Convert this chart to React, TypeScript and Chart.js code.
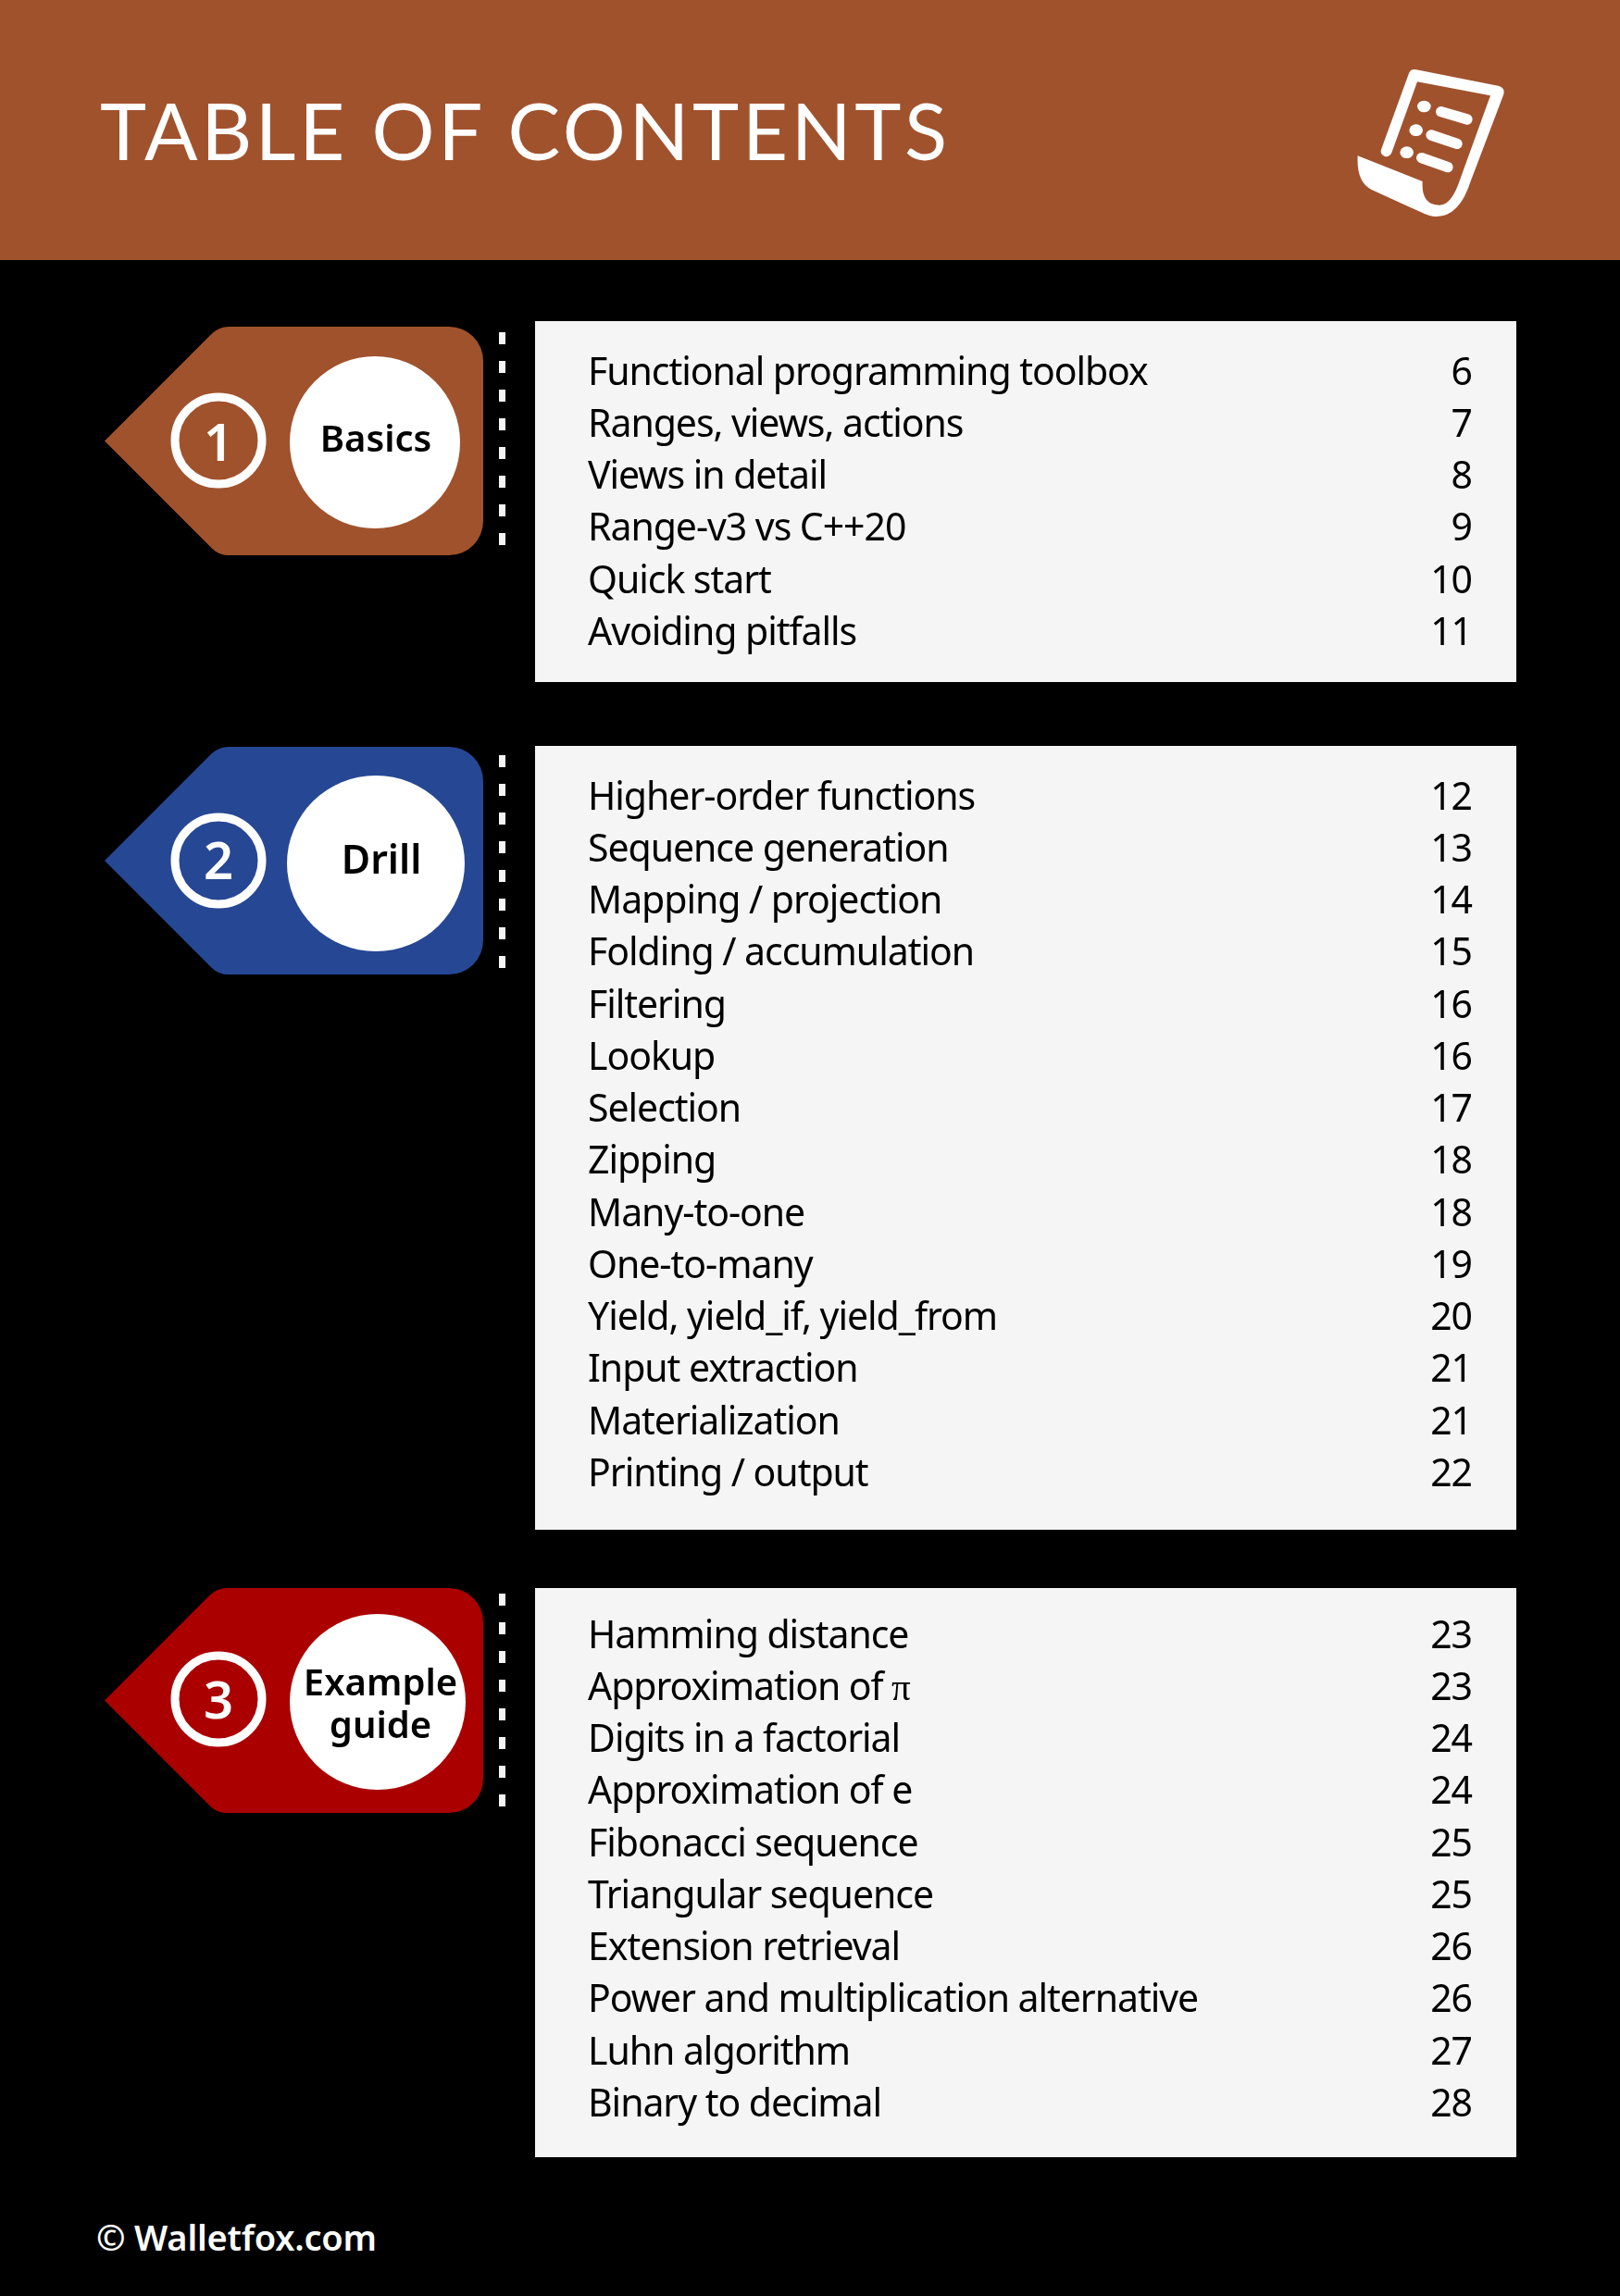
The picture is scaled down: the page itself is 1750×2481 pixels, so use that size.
import React, { useRef, useEffect } from "react";
import Chart from "chart.js/auto";

const basicsTopics = ["Functional programming toolbox", "Ranges, views, actions", "Views in detail", "Range-v3 vs C++20", "Quick start", "Avoiding pitfalls"];
const basicsPages = [6, 7, 8, 9, 10, 11];

const drillTopics = ["Higher-order functions", "Sequence generation", "Mapping / projection", "Folding / accumulation", "Filtering", "Lookup", "Selection", "Zipping", "Many-to-one", "One-to-many", "Yield, yield_if, yield_from", "Input extraction", "Materialization", "Printing / output"];
const drillPages = [12, 13, 14, 15, 16, 16, 17, 18, 18, 19, 20, 21, 21, 22];

const exampleTopics = ["Hamming distance", "Approximation of π", "Digits in a factorial", "Approximation of e", "Fibonacci sequence", "Triangular sequence", "Extension retrieval", "Power and multiplication alternative", "Luhn algorithm", "Binary to decimal"];
const examplePages = [23, 23, 24, 24, 25, 25, 26, 26, 27, 28];

const FONT = '"Noto Sans", sans-serif';
// PiSerif only holds the pi glyph, everything else falls through to Noto Sans
const ROW_FONT = 'PiSerif, "Noto Sans", sans-serif';
const ROW = 56.25;

interface SectionProps {
	topics: string[];
	pages: number[];
	number: string;
	badge: string[];
	badgeSize: number;
	color: string;
	// page coordinates of the canvas band, the panel, the tag and its circles
	canvasTop: number;
	canvasBottom: number;
	panelTop: number;
	panelBottom: number;
	firstRow: number;
	tagTop: number;
	tagBottom: number;
	ringY: number;
	digitBase: number;
	circle: [number, number, number, number];
	badgeX: number;
	badgeBase: number;
	dashTop: number;
}

const Section: React.FC<SectionProps> = (props) => {
	const chartRef = useRef<HTMLCanvasElement | null>(null);

	useEffect(() => {
		if (!chartRef.current) return;
		const top = props.canvasTop;
		const height = props.canvasBottom - props.canvasTop;
		const rowsTop = props.firstRow - ROW / 2;
		const rowsBottom = rowsTop + ROW * props.topics.length;

		const decor = {
			id: "decor",
			beforeDraw(chart: any) {
				const ctx = chart.ctx;
				ctx.letterSpacing = "0px";
				ctx.save();
				ctx.translate(0, -top);

				// panel behind the rows
				ctx.fillStyle = "#F5F5F5";
				ctx.fillRect(578, props.panelTop, 1060, props.panelBottom - props.panelTop);

				// tag
				const t = props.tagTop;
				const b = props.tagBottom;
				const tip = (t + b) / 2;
				const lean = tip - t;
				ctx.fillStyle = props.color;
				ctx.beginPath();
				ctx.moveTo(113, tip);
				ctx.arcTo(113 + lean, t, 522, t, 26);
				ctx.arcTo(522, t, 522, b, 37);
				ctx.arcTo(522, b, 113 + lean, b, 37);
				ctx.arcTo(113 + lean, b, 113, tip, 26);
				ctx.closePath();
				ctx.fill();

				// numbered ring
				ctx.strokeStyle = "#FFFFFF";
				ctx.lineWidth = 9;
				ctx.beginPath();
				ctx.arc(236, props.ringY, 47, 0, Math.PI * 2);
				ctx.stroke();
				ctx.fillStyle = "#FFFFFF";
				ctx.textAlign = "center";
				ctx.textBaseline = "alphabetic";
				ctx.font = `600 56px ${FONT}`;
				ctx.fillText(props.number, 236, props.digitBase);

				// white badge
				const [cx, cy, rx, ry] = props.circle;
				ctx.beginPath();
				ctx.ellipse(cx, cy, rx, ry, 0, 0, Math.PI * 2);
				ctx.fill();
				ctx.fillStyle = "#000000";
				ctx.font = `600 ${props.badgeSize}px ${FONT}`;
				props.badge.forEach((line, i) => {
					ctx.fillText(line, props.badgeX, props.badgeBase + i * 46);
				});

				// dashes between tag and panel
				ctx.fillStyle = "#F5F5F5";
				for (let i = 0; i < 8; i++) {
					ctx.fillRect(539, props.dashTop + i * 31, 7, 13);
				}
				ctx.restore();
				// the row labels are tighter than Noto Sans sets them
				ctx.letterSpacing = "-1.05px";
			},
		};

		const tickFont = { family: ROW_FONT, size: 41 };
		const chart = new Chart(chartRef.current, {
			type: "bar",
			data: {
				labels: props.topics,
				datasets: [
					{
						label: "Page",
						data: props.pages,
						backgroundColor: "rgba(0,0,0,0)",
					},
				],
			},
			options: {
				indexAxis: "y",
				responsive: false,
				animation: false,
				layout: {
					autoPadding: false,
					padding: {
						left: 635,
						right: 160,
						top: rowsTop - top,
						bottom: height - (rowsBottom - top),
					},
				},
				scales: {
					x: { display: false, min: 0, max: 30 },
					y: {
						type: "category",
						grid: { display: false, drawTicks: false },
						border: { display: false },
						ticks: { mirror: true, padding: 0, autoSkip: false, color: "#000000", font: tickFont },
					},
					yPages: {
						type: "category",
						position: "right",
						offset: true,
						labels: props.pages.map(String),
						grid: { display: false, drawTicks: false },
						border: { display: false },
						ticks: { mirror: true, padding: 0, autoSkip: false, color: "#000000", font: tickFont },
					},
				},
				plugins: {
					legend: { display: false },
					tooltip: { enabled: false },
				},
			} as any,
			plugins: [decor],
		});

		// redraw once the local pi font is in
		document.fonts.load("41px PiSerif", "π").then(() => {
			if (chart.ctx) chart.update();
		});

		return () => {
			chart.destroy();
		};
	}, []);

	return (
		<canvas
			ref={chartRef}
			width={1750}
			height={props.canvasBottom - props.canvasTop}
			style={{ position: "absolute", left: 0, top: props.canvasTop, display: "block" }}
		></canvas>
	);
};

const App: React.FC = () => {
	return (
		<div style={{ position: "relative", width: 1750, height: 2481, background: "#000000", overflow: "hidden" }}>
			<style>
				{'body{margin:0;background:#000}@font-face{font-family:PiSerif;src:local("Liberation Serif");unicode-range:U+03C0}'}
			</style>
			<div style={{ position: "absolute", left: 0, top: 0, width: 1750, height: 281, background: "#A0522D" }}></div>
			<div
				style={{
					position: "absolute",
					left: 108,
					top: 82,
					color: "#FFFFFF",
					fontFamily: "Lato, sans-serif",
					fontSize: 85,
					lineHeight: "116px",
					letterSpacing: 3.7,
					whiteSpace: "nowrap",
				}}
			>
				TABLE OF CONTENTS
			</div>
			<svg style={{ position: "absolute", left: 1420, top: 50 }} width={230} height={200} viewBox="0 0 690 600">
				<path
					fill="#FFFFFF"
					d="M305 90 Q311 72 330 76 L595 128 Q620 134 612 158 L505 440 Q470 550 395 552 Q372 552 345 538 L185 465 Q135 440 140 355 L350 438 Q345 515 405 515 Q440 515 465 450 L570 160 L333 115 L250 345 Q243 360 228 357 Q210 350 217 332 Z"
				/>
				<ellipse cx={355} cy={195} rx={22} ry={19} fill="#FFFFFF" />
				<ellipse cx={329} cy={272} rx={22} ry={19} fill="#FFFFFF" />
				<ellipse cx={299} cy={344} rx={22} ry={19} fill="#FFFFFF" />
				<g stroke="#FFFFFF" strokeWidth={34} strokeLinecap="round">
					<line x1={410} y1={212} x2={495} y2={237} />
					<line x1={378} y1={288} x2={462} y2={316} />
					<line x1={347} y1={362} x2={432} y2={392} />
				</g>
			</svg>

			<Section
				topics={basicsTopics}
				pages={basicsPages}
				number="1"
				badge={["Basics"]}
				badgeSize={40}
				color="#A0522D"
				canvasTop={340}
				canvasBottom={750}
				panelTop={347}
				panelBottom={737}
				firstRow={404}
				tagTop={353}
				tagBottom={600}
				ringY={476}
				digitBase={498}
				circle={[405, 478, 92, 93]}
				badgeX={406}
				badgeBase={488}
				dashTop={359}
			/>
			<Section
				topics={drillTopics}
				pages={drillPages}
				number="2"
				badge={["Drill"]}
				badgeSize={43}
				color="#264794"
				canvasTop={800}
				canvasBottom={1660}
				panelTop={806}
				panelBottom={1653}
				firstRow={863}
				tagTop={807}
				tagBottom={1053}
				ringY={930}
				digitBase={950}
				circle={[406, 933, 96, 95]}
				badgeX={412}
				badgeBase={944}
				dashTop={816}
			/>
			<Section
				topics={exampleTopics}
				pages={examplePages}
				number="3"
				badge={["Example", "guide"]}
				badgeSize={40}
				color="#AA0000"
				canvasTop={1710}
				canvasBottom={2340}
				panelTop={1716}
				panelBottom={2331}
				firstRow={1769}
				tagTop={1716}
				tagBottom={1959}
				ringY={1836}
				digitBase={1857}
				circle={[408, 1839, 95, 95]}
				badgeX={411}
				badgeBase={1832}
				dashTop={1722}
			/>

			<div
				style={{
					position: "absolute",
					left: 104,
					top: 2391,
					color: "#FFFFFF",
					fontFamily: FONT,
					fontWeight: 600,
					fontSize: 38,
					lineHeight: "52px",
					letterSpacing: -0.2,
					whiteSpace: "nowrap",
				}}
			>
				© Walletfox.com
			</div>
		</div>
	);
};

export default App;
